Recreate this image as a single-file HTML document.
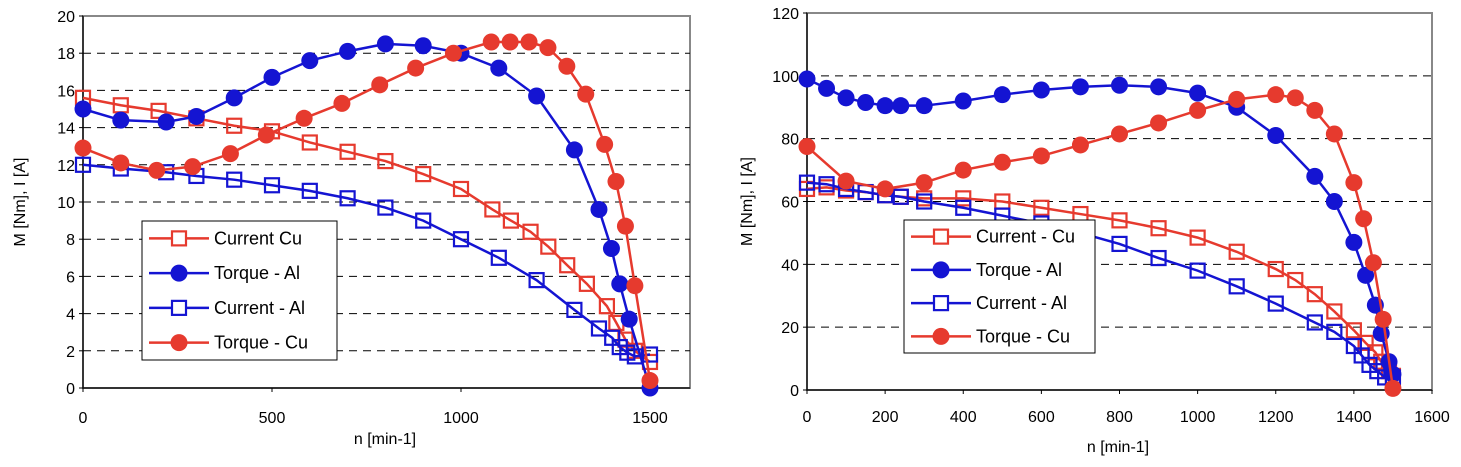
<!DOCTYPE html>
<html><head><meta charset="utf-8"><style>
html,body{margin:0;padding:0;background:#fff;}
svg{display:block;font-family:"Liberation Sans",Arial,sans-serif;}
</style></head><body>
<svg id="s" width="1461" height="467" xmlns="http://www.w3.org/2000/svg"></svg>
<script>
const R="#e63a2e",B="#1414d2";
const s=document.getElementById('s');
let h='';
function chart(c){
  const X=v=>c.x0+v*c.sx, Y=v=>c.y0-v*c.sy;
  h+=`<rect x="${c.x0}" y="${c.top}" width="${c.right-c.x0}" height="${c.y0-c.top}" fill="#fff" stroke="#888" stroke-width="2"/>`;
  for(let v=c.ys;v<c.ymax;v+=c.ys){h+=`<line x1="${c.x0}" x2="${c.right}" y1="${Y(v)}" y2="${Y(v)}" stroke="#000" stroke-width="1" stroke-dasharray="8,6"/>`;}
  h+=`<line x1="${c.x0}" x2="${c.x0}" y1="${c.top}" y2="${c.y0}" stroke="#000" stroke-width="1.2"/>`;
  h+=`<line x1="${c.x0}" x2="${c.right}" y1="${c.y0}" y2="${c.y0}" stroke="#000" stroke-width="1.2"/>`;
  for(let v=0;v<=c.ymax;v+=c.ys){h+=`<line x1="${c.x0-4}" x2="${c.x0}" y1="${Y(v)}" y2="${Y(v)}" stroke="#000"/><text x="${c.x0-8}" y="${Y(v)+6}" font-size="16" text-anchor="end">${v}</text>`;}
  for(let v=0;v<=c.xmax;v+=c.xs){h+=`<line x1="${X(v)}" x2="${X(v)}" y1="${c.y0}" y2="${c.y0+4}" stroke="#000"/><text x="${X(v)}" y="${c.xly}" font-size="16" text-anchor="middle">${v}</text>`;}
  h+=`<text x="${c.xlx}" y="${c.xty}" font-size="16" text-anchor="middle">n [min-1]</text>`;
  h+=`<text transform="translate(${c.ylx},${(c.top+c.y0)/2}) rotate(-90)" font-size="16" text-anchor="middle">M [Nm], I [A]</text>`;
  for(const se of c.series){
    const pts=[];for(let i=0;i<se.d.length;i+=2)pts.push([X(se.d[i]),Y(se.d[i+1])]);
    h+=`<polyline points="${pts.map(p=>p.join(',')).join(' ')}" fill="none" stroke="${se.c}" stroke-width="2.5"/>`;
    for(const p of pts){
      if(se.m=='c')h+=`<circle cx="${p[0]}" cy="${p[1]}" r="8.5" fill="${se.c}"/>`;
      else h+=`<rect x="${p[0]-7}" y="${p[1]-7}" width="14" height="14" fill="none" stroke="${se.c}" stroke-width="2.2"/>`;
    }
  }
  const L=c.leg;
  h+=`<rect x="${L.x}" y="${L.y}" width="${L.w}" height="${L.h}" fill="#fff" stroke="#000" stroke-width="1"/>`;
  L.items.forEach((it,i)=>{
    const yy=L.y+L.h*(i+0.5)/4;
    h+=`<line x1="${L.x+7}" x2="${L.x+67}" y1="${yy}" y2="${yy}" stroke="${it[1]}" stroke-width="2.5"/>`;
    if(it[2]=='c')h+=`<circle cx="${L.x+37}" cy="${yy}" r="8.5" fill="${it[1]}"/>`;
    else h+=`<rect x="${L.x+30}" y="${yy-7}" width="14" height="14" fill="#fff" stroke="${it[1]}" stroke-width="2.2"/>`;
    h+=`<text x="${L.x+72}" y="${yy+6}" font-size="18">${it[0]}</text>`;
  });
}
chart({x0:83,sx:(650-83)/1500,y0:388,sy:(388-16)/20,top:16,right:690,ymax:20,ys:2,xmax:1500,xs:500,xly:423,xlx:385,xty:444,ylx:25,
series:[
{c:R,m:'s',d:[0,15.6,100,15.2,200,14.9,300,14.5,400,14.1,500,13.8,600,13.2,700,12.7,800,12.2,900,11.5,1000,10.7,1083,9.6,1132,9.0,1184,8.4,1231,7.6,1281,6.6,1333,5.6,1386,4.4,1411,3.5,1435,2.6,1460,2.0,1500,1.4]},
{c:B,m:'c',d:[0,15.0,100,14.4,220,14.3,300,14.6,400,15.6,500,16.7,600,17.6,700,18.1,800,18.5,900,18.4,1000,18.0,1100,17.2,1200,15.7,1300,12.8,1365,9.6,1398,7.5,1420,5.6,1445,3.7,1500,0]},
{c:B,m:'s',d:[0,12.0,100,11.8,220,11.6,300,11.4,400,11.2,500,10.9,600,10.6,700,10.2,800,9.7,900,9.0,1000,8.0,1100,7.0,1200,5.8,1300,4.2,1365,3.2,1400,2.7,1420,2.2,1440,1.9,1460,1.7,1500,1.8]},
{c:R,m:'c',d:[0,12.9,100,12.1,195,11.7,290,11.9,390,12.6,485,13.6,585,14.5,685,15.3,785,16.3,880,17.2,980,18.0,1080,18.6,1130,18.6,1180,18.6,1230,18.3,1280,17.3,1330,15.8,1380,13.1,1410,11.1,1435,8.7,1460,5.5,1500,0.4]}
],
leg:{x:142,y:221,w:195,h:139,items:[["Current Cu",R,'s'],["Torque - Al",B,'c'],["Current - Al",B,'s'],["Torque - Cu",R,'c']]}});
chart({x0:807,sx:(1432-807)/1600,y0:390,sy:(390-13)/120,top:13,right:1432,ymax:120,ys:20,xmax:1600,xs:200,xly:422,xlx:1118,xty:452,ylx:752,
series:[
{c:R,m:'s',d:[0,64,50,64.5,100,63.5,150,63,200,62,240,61.5,300,61,400,61,500,60,600,58,700,56,800,54,900,51.5,1000,48.5,1100,44,1200,38.5,1250,35,1300,30.5,1350,25,1400,19,1430,15,1455,12,1470,9,1490,6,1500,4.5]},
{c:B,m:'c',d:[0,99,50,96,100,93,150,91.5,200,90.5,240,90.5,300,90.5,400,92,500,94,600,95.5,700,96.5,800,97,900,96.5,1000,94.5,1100,90,1200,81,1300,68,1350,60,1400,47,1430,36.5,1455,27,1470,18,1490,9,1500,5]},
{c:B,m:'s',d:[0,66,50,65.5,100,64,150,63,200,62,240,61.5,300,60,400,58,500,55.5,600,53,700,50,800,46.5,900,42,1000,38,1100,33,1200,27.5,1300,21.5,1350,18.5,1400,14,1420,11,1440,8,1460,6,1480,4,1500,4]},
{c:R,m:'c',d:[0,77.5,100,66.5,200,64,300,66,400,70,500,72.5,600,74.5,700,78,800,81.5,900,85,1000,89,1100,92.5,1200,94,1250,93,1300,89,1350,81.5,1400,66,1425,54.5,1450,40.5,1475,22.5,1500,0.5]}
],
leg:{x:904,y:220,w:191,h:133,items:[["Current - Cu",R,'s'],["Torque - Al",B,'c'],["Current - Al",B,'s'],["Torque - Cu",R,'c']]}});
s.innerHTML=h;
</script>
</body></html>
